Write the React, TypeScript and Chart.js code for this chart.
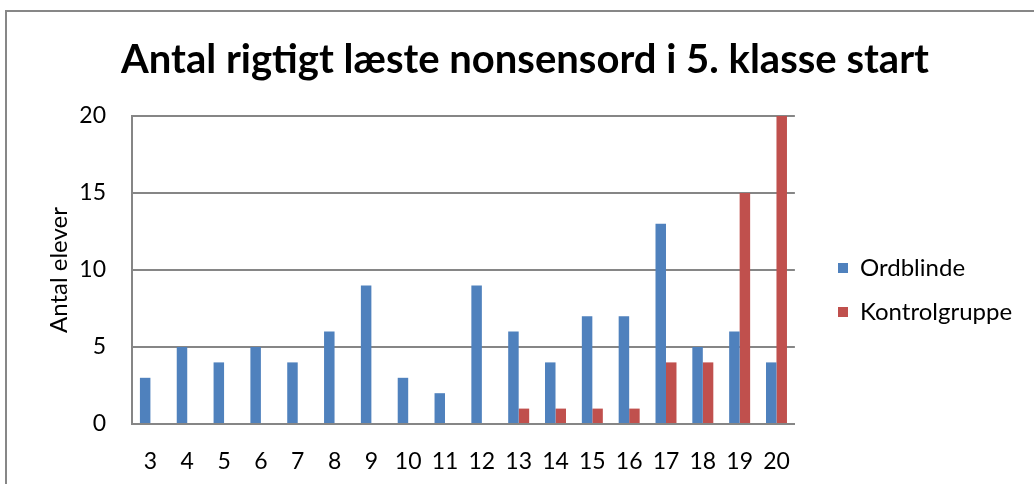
import React, { useEffect, useRef } from "react";
import { Chart, registerables } from "chart.js";

Chart.register(...registerables);

const categories = ["3", "4", "5", "6", "7", "8", "9", "10", "11", "12", "13", "14", "15", "16", "17", "18", "19", "20"];
const ordblinde = [3, 5, 4, 5, 4, 6, 9, 3, 2, 9, 6, 4, 7, 7, 13, 5, 6, 4];
const kontrolgruppe = [0, 0, 0, 0, 0, 0, 0, 0, 0, 0, 1, 1, 1, 1, 4, 4, 15, 20];
const yTicks = [0, 5, 10, 15, 20];
const titleText = "Antal rigtigt læste nonsensord i 5. klasse start";
const yTitle = "Antal elever";

const FONT = "Lato, 'Open Sans', sans-serif";

const legendPlace = {
  id: "legendPlace",
  afterLayout(chart: any) {
    const lg = chart.legend;
    if (!lg) return;
    const dx = 818 - lg.left;
    lg.left += dx;
    lg.right += dx;
    const h = lg.height;
    lg.top = 236;
    lg.bottom = 236 + h;
  },
};

export default function App() {
  const ref = useRef<HTMLCanvasElement | null>(null);
  useEffect(() => {
    if (!ref.current) return;
    const chart = new Chart(ref.current, {
      type: "bar",
      data: {
        labels: categories,
        datasets: [
          { label: "Ordblinde", data: ordblinde, backgroundColor: "#4F81BD", categoryPercentage: 0.57, barPercentage: 1 },
          { label: "Kontrolgruppe", data: kontrolgruppe, backgroundColor: "#C0504D", categoryPercentage: 0.57, barPercentage: 1 },
        ],
      },
      plugins: [legendPlace],
      options: {
        animation: false,
        responsive: false,
        layout: { padding: { left: 51, right: 35, top: 36, bottom: 8 } },
        plugins: {
          title: {
            display: true,
            text: titleText,
            color: "#000",
            font: { family: FONT, size: 40, weight: "bold", lineHeight: 1.2 },
            padding: { top: 0, bottom: 32 },
          },
          legend: {
            position: "right",
            align: "start",
            labels: {
              boxWidth: 10,
              boxHeight: 10,
              padding: 20,
              color: "#000",
              font: { family: FONT, size: 24 },
            },
          },
          tooltip: { enabled: false },
        },
        scales: {
          x: {
            afterFit: (s: any) => {
              s.height = 52;
            },
            grid: { display: false, drawTicks: false },
            border: { display: true, color: "#868686", width: 2 },
            ticks: { color: "#000", font: { family: FONT, size: 23, lineHeight: 1.2 }, padding: 24, maxRotation: 0 },
          },
          y: {
            min: 0,
            max: 20,
            afterBuildTicks: (s: any) => {
              s.ticks = yTicks.map((v) => ({ value: v }));
            },
            afterFit: (s: any) => {
              s.width = 81;
            },
            grid: { color: "#868686", lineWidth: 2, drawTicks: false },
            border: { display: true, color: "#868686", width: 2 },
            ticks: { color: "#000", font: { family: FONT, size: 23 }, padding: 26 },
            title: {
              display: true,
              text: yTitle,
              color: "#000",
              font: { family: FONT, size: 24, lineHeight: 1.2 },
              padding: { top: -6, bottom: 0 },
            },
          },
        },
      },
    });
    return () => chart.destroy();
  }, []);
  return (
    <div style={{ position: "fixed", left: 0, top: 0, width: 1034, height: 484, overflow: "hidden", background: "#fff" }}>
      <canvas ref={ref} width={1034} height={484} style={{ position: "absolute", left: 0, top: 0, width: 1034, height: 484 }} />
      <div
        style={{
          position: "absolute",
          left: 5,
          top: 10,
          width: 1100,
          height: 600,
          border: "2px solid #878787",
          pointerEvents: "none",
        }}
      />
    </div>
  );
}
